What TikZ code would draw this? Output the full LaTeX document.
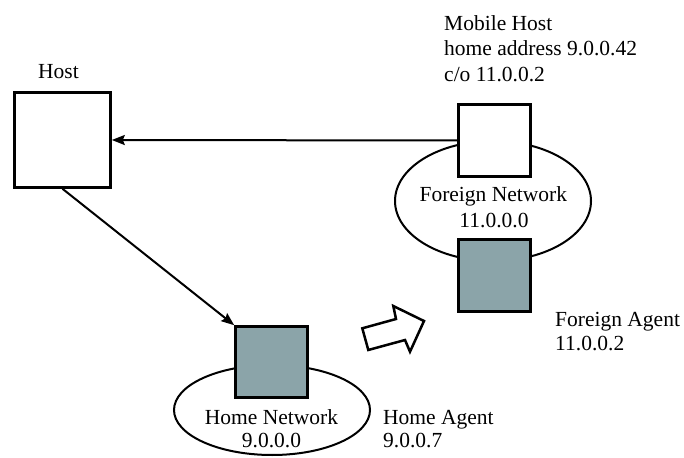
\documentclass[tikz,border=0pt]{standalone}
\usepackage{fontspec}
\setmainfont{Liberation Serif}
\usetikzlibrary{shapes.geometric,arrows.meta}
\definecolor{agentgray}{RGB}{139,164,169}
\begin{document}
\begin{tikzpicture}[x=1bp,y=-1bp,
  box/.style={draw, line width=2.6bp, inner sep=0pt, fill=white,
              minimum width=72bp, minimum height=72bp},
  agent/.style={box, fill=agentgray},
  net/.style={draw, ellipse, line width=2bp, inner sep=0pt},
  lbl/.style={inner sep=0pt, font=\fontsize{21.5bp}{25bp}\selectfont},
  link/.style={line width=2bp, -{Stealth[length=13bp,width=10bp,inset=2bp]}},
  move/.style={draw, line width=2.5bp, line join=miter, fill=white},
]
\useasboundingbox (0,0) rectangle (684,458);

% networks
\node[net, minimum width=196bp, minimum height=120bp] (fnet) at (493,201) {};
\node[net, minimum width=196bp, minimum height=90bp] (hnet) at (272,410) {};

% hosts and agents
\node[box, minimum width=96bp, minimum height=95bp] (host) at (62.5,140) {};
\node[box] (mobile) at (494.5,140.5) {};
\node[agent] (fagent) at (494.5,275.5) {};
\node[agent, minimum height=71bp] (hagent) at (271.5,362) {};

% traffic paths
\draw[link] (mobile.west) -- (host.east);
\draw[link] (host.south) -- (hagent.north west);

% migration arrow
\draw[move] (362.3,328.3) -- (368.3,350) -- (405,340) -- (410,351.7)
  -- (424,321) -- (393.3,306) -- (396,319) -- cycle;

% labels
\node[lbl, anchor=base] (hostlbl) at (58.5,79) {Host};
\node[lbl, anchor=base west] (mhA) at (444,31) {Mobile Host};
\node[lbl, anchor=base west] (mhB) at (444,56) {home address 9.0.0.42};
\node[lbl, anchor=base west] (mhC) at (444,82) {c/o 11.0.0.2};
\node[lbl, anchor=base] (fnA) at (493.3,202) {Foreign Network};
\node[lbl, anchor=base] (fnB) at (494,228) {11.0.0.0};
\node[lbl, anchor=base west] (faA) at (555,327) {Foreign Agent};
\node[lbl, anchor=base west] (faB) at (555,350) {11.0.0.2};
\node[lbl, anchor=base] (hnA) at (271.5,424) {Home Network};
\node[lbl, anchor=base] (hnB) at (271.5,447) {9.0.0.0};
\node[lbl, anchor=base west] (haA) at (383,424) {Home Agent};
\node[lbl, anchor=base west] (haB) at (383,447) {9.0.0.7};
\end{tikzpicture}
\end{document}
